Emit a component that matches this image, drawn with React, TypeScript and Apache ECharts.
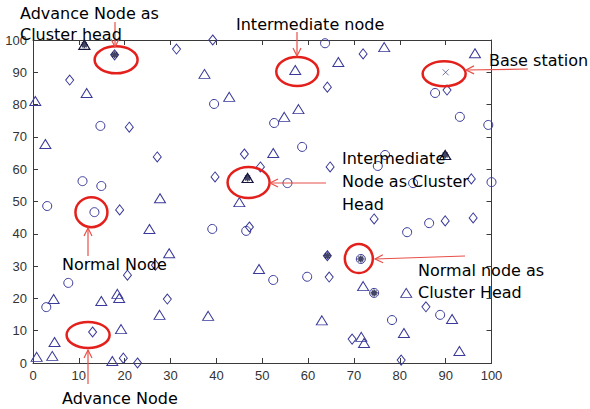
import React, { useEffect, useRef } from 'react';
import * as echarts from 'echarts';

// ---- data (field coordinates, 0..100) ----
const normalNodes: number[][] = [
  [3.1, 48.6], [10.8, 56.3], [14.9, 54.8], [13.4, 46.7], [14.7, 73.4], [39.5, 80.2],
  [39.1, 41.5], [46.5, 40.9], [52.4, 25.7], [59.8, 26.7], [58.7, 66.9], [52.6, 74.3],
  [63.7, 99], [87.7, 83.6], [93.1, 76.2], [99.3, 73.7], [81.6, 40.5], [86.4, 43.3],
  [88.8, 14.9], [78.3, 13.3], [76.8, 64.4], [75.2, 61], [55.5, 55.7], [82.9, 55.7],
  [100, 56], [2.9, 17.3], [7.7, 24.8],
];
const normalHeads: number[][] = [[71.5, 32.2], [74.4, 21.7]];

const intermediateNodes: number[][] = [
  [0.5, 81.1], [11.7, 83.6], [2.7, 67.8], [27.7, 51], [37.4, 89.5], [42.8, 82.4],
  [57.2, 90.7], [57.9, 78.6], [54.8, 76.2], [52.4, 65], [66.6, 93.2], [76.6, 97.8],
  [96.4, 95.9], [25.4, 41.5], [29.7, 34], [4.5, 19.8], [14.9, 19.2], [18.4, 21.4],
  [18.8, 20.1], [27.6, 14.9], [19.2, 10.5], [4.7, 6.5], [4.2, 2.2], [0.8, 1.9],
  [17.3, 0.6], [45, 49.8], [49.3, 29.1], [38.2, 14.6], [63, 13.2], [72, 23.8],
  [81.4, 21.7], [91.4, 13.6], [80.9, 9.3], [71.6, 8.1], [72.2, 6.2], [93, 3.7],
];
const intermediateHeads: number[][] = [[11.2, 98.5], [46.8, 57.3], [89.9, 64.4]];

const advanceNodes: number[][] = [
  [8, 87.6], [21, 73], [27.1, 63.8], [31.3, 97.2], [39.2, 100], [46.1, 64.7],
  [49.6, 60.7], [39.7, 57.6], [64.2, 85.4], [72, 95.7], [90.3, 84.5], [64.8, 60.7],
  [95.6, 57], [18.9, 47.4], [20.6, 27.2], [26.7, 30.3], [29.3, 19.8], [13, 9.6],
  [19.7, 1.5], [22.8, 0], [47.2, 42.1], [64.6, 26.6], [74.4, 44.6], [89.9, 44],
  [96, 44.9], [85.7, 17.4], [69.6, 7.4], [80.3, 0.9],
];
const advanceHeads: number[][] = [[17.8, 95.4], [64.2, 33.2]];

const baseStation: number[][] = [[90, 90]];

// ---- annotation layout (pixels) ----
const ellipses = [
  { at: [17.8, 95.4], dx: 1.5, dy: 5, rx: 21.5, ry: 13.5 },
  { at: [57.2, 90.7], dx: 2, dy: 1.5, rx: 21, ry: 14.5 },
  { at: [90, 90], dx: -1.5, dy: 1.5, rx: 21.5, ry: 12.5 },
  { at: [46.8, 57.3], dx: 1, dy: 4.5, rx: 21, ry: 15.5 },
  { at: [13.4, 46.7], dx: -3, dy: 0, rx: 16, ry: 15 },
  { at: [13, 9.6], dx: -4.5, dy: 3, rx: 21.5, ry: 13 },
  { at: [71.5, 32.2], dx: -2, dy: -0.5, rx: 14, ry: 14.5 },
];
const arrows = [
  [115, 22, 115, 47],
  [297, 32, 297, 56],
  [528, 69, 466, 70],
  [326, 183, 270, 183],
  [88, 256, 88, 228],
  [88, 384, 88, 350],
  [465, 256, 375, 259],
];
const labels: [string, number, number][] = [
  ['Advance Node as', 20, 13],
  ['Cluster head', 20, 34],
  ['Intermediate node', 236, 24],
  ['Base station', 489, 60],
  ['Intermediate', 342, 158],
  ['Node as Cluster', 342, 181],
  ['Head', 342, 204],
  ['Normal Node', 62, 264],
  ['Advance Node', 62, 398],
  ['Normal node as', 418, 270],
  ['Cluster Head', 418, 292],
];

const NAVY = '#3a3a9a';
const DARK = '#14143c';
const RED = '#e3201b';
const ARROW = '#e8504a';
const AXIS = '#3a3a3a';
const STAR = 'path://M5,0L5,10M0,5L10,5M1.5,1.5L8.5,8.5M8.5,1.5L1.5,8.5';
const CROSS = 'path://M0,0L10,10M10,0L0,10';

function hollow(data: number[][], symbol: string, size: any, color = NAVY, bw = 1) {
  return {
    type: 'scatter', data, symbol, symbolSize: size, silent: true,
    itemStyle: { color: 'rgba(0,0,0,0)', borderColor: color, borderWidth: bw, opacity: 1 },
    z: 2,
  };
}
function stars(data: number[][]) {
  return {
    type: 'scatter', data, symbol: STAR, symbolSize: 7, silent: true,
    itemStyle: { color: DARK, borderColor: DARK, borderWidth: 1.6 }, z: 3,
  };
}

function axis(pos: string, labels: boolean) {
  return {
    type: 'value', min: 0, max: 100, interval: 10, position: pos,
    axisLine: { show: true, onZero: false, lineStyle: { color: AXIS, width: 1 } },
    axisTick: { show: true, inside: true, length: 5, lineStyle: { color: AXIS } },
    axisLabel: labels
      ? { show: true, color: '#333', fontSize: 13, fontFamily: 'Liberation Sans', margin: 6 }
      : { show: false },
    splitLine: { show: false },
  };
}

export default function App() {
  const ref = useRef<HTMLDivElement>(null);
  useEffect(() => {
    if (!ref.current) return;
    const chart = echarts.init(ref.current, undefined, { renderer: 'svg' });
    chart.setOption({
      animation: false,
      backgroundColor: '#fff',
      grid: { left: 33, right: 98.5, top: 40, bottom: 46 },
      xAxis: [axis('bottom', true), axis('top', false)],
      yAxis: [axis('left', true), axis('right', false)],
      series: [
        hollow(normalNodes, 'circle', 9),
        hollow(intermediateNodes, 'triangle', [11, 9]),
        hollow(advanceNodes, 'diamond', [8, 10]),
        hollow(normalHeads, 'circle', 9),
        hollow(intermediateHeads, 'triangle', [11, 9], DARK, 1.2),
        hollow(advanceHeads, 'diamond', [8, 10]),
        stars(normalHeads),
        stars(intermediateHeads),
        stars(advanceHeads),
        {
          type: 'scatter', data: baseStation, symbol: CROSS, symbolSize: 6, silent: true,
          itemStyle: { color: 'rgba(0,0,0,0)', borderColor: '#55558a', borderWidth: 1 },
        },
      ],
    });

    const g: any[] = [];
    ellipses.forEach((e) => {
      const p = chart.convertToPixel({ gridIndex: 0 }, e.at) as number[];
      g.push({
        type: 'ellipse', z: 20,
        shape: { cx: p[0] + e.dx, cy: p[1] + e.dy, rx: e.rx, ry: e.ry },
        style: { fill: 'none', stroke: RED, lineWidth: 2.5 },
      });
    });
    arrows.forEach(([x1, y1, x2, y2]) => {
      const len = Math.hypot(x2 - x1, y2 - y1);
      const ux = (x2 - x1) / len, uy = (y2 - y1) / len;
      const nx = -uy, ny = ux;
      const hl = 8, hw = 4;
      g.push({
        type: 'line', z: 21,
        shape: { x1, y1, x2, y2 },
        style: { stroke: ARROW, lineWidth: 1.2 },
      });
      g.push({
        type: 'polyline', z: 21,
        shape: {
          points: [
            [x2 - hl * ux + hw * nx, y2 - hl * uy + hw * ny],
            [x2, y2],
            [x2 - hl * ux - hw * nx, y2 - hl * uy - hw * ny],
          ],
        },
        style: { stroke: ARROW, lineWidth: 1.2, fill: 'none' },
      });
    });
    labels.forEach(([text, x, y]) => {
      g.push({
        type: 'text', z: 30, x, y,
        style: {
          text, fill: '#000', fontSize: 16, fontFamily: 'DejaVu Sans',
          align: 'left', verticalAlign: 'middle',
        },
      });
    });
    chart.setOption({ graphic: g });
    return () => chart.dispose();
  }, []);
  return (
    <div
      ref={ref}
      style={{ position: 'fixed', left: 0, top: 0, width: 590, height: 409, background: '#fff' }}
    />
  );
}
